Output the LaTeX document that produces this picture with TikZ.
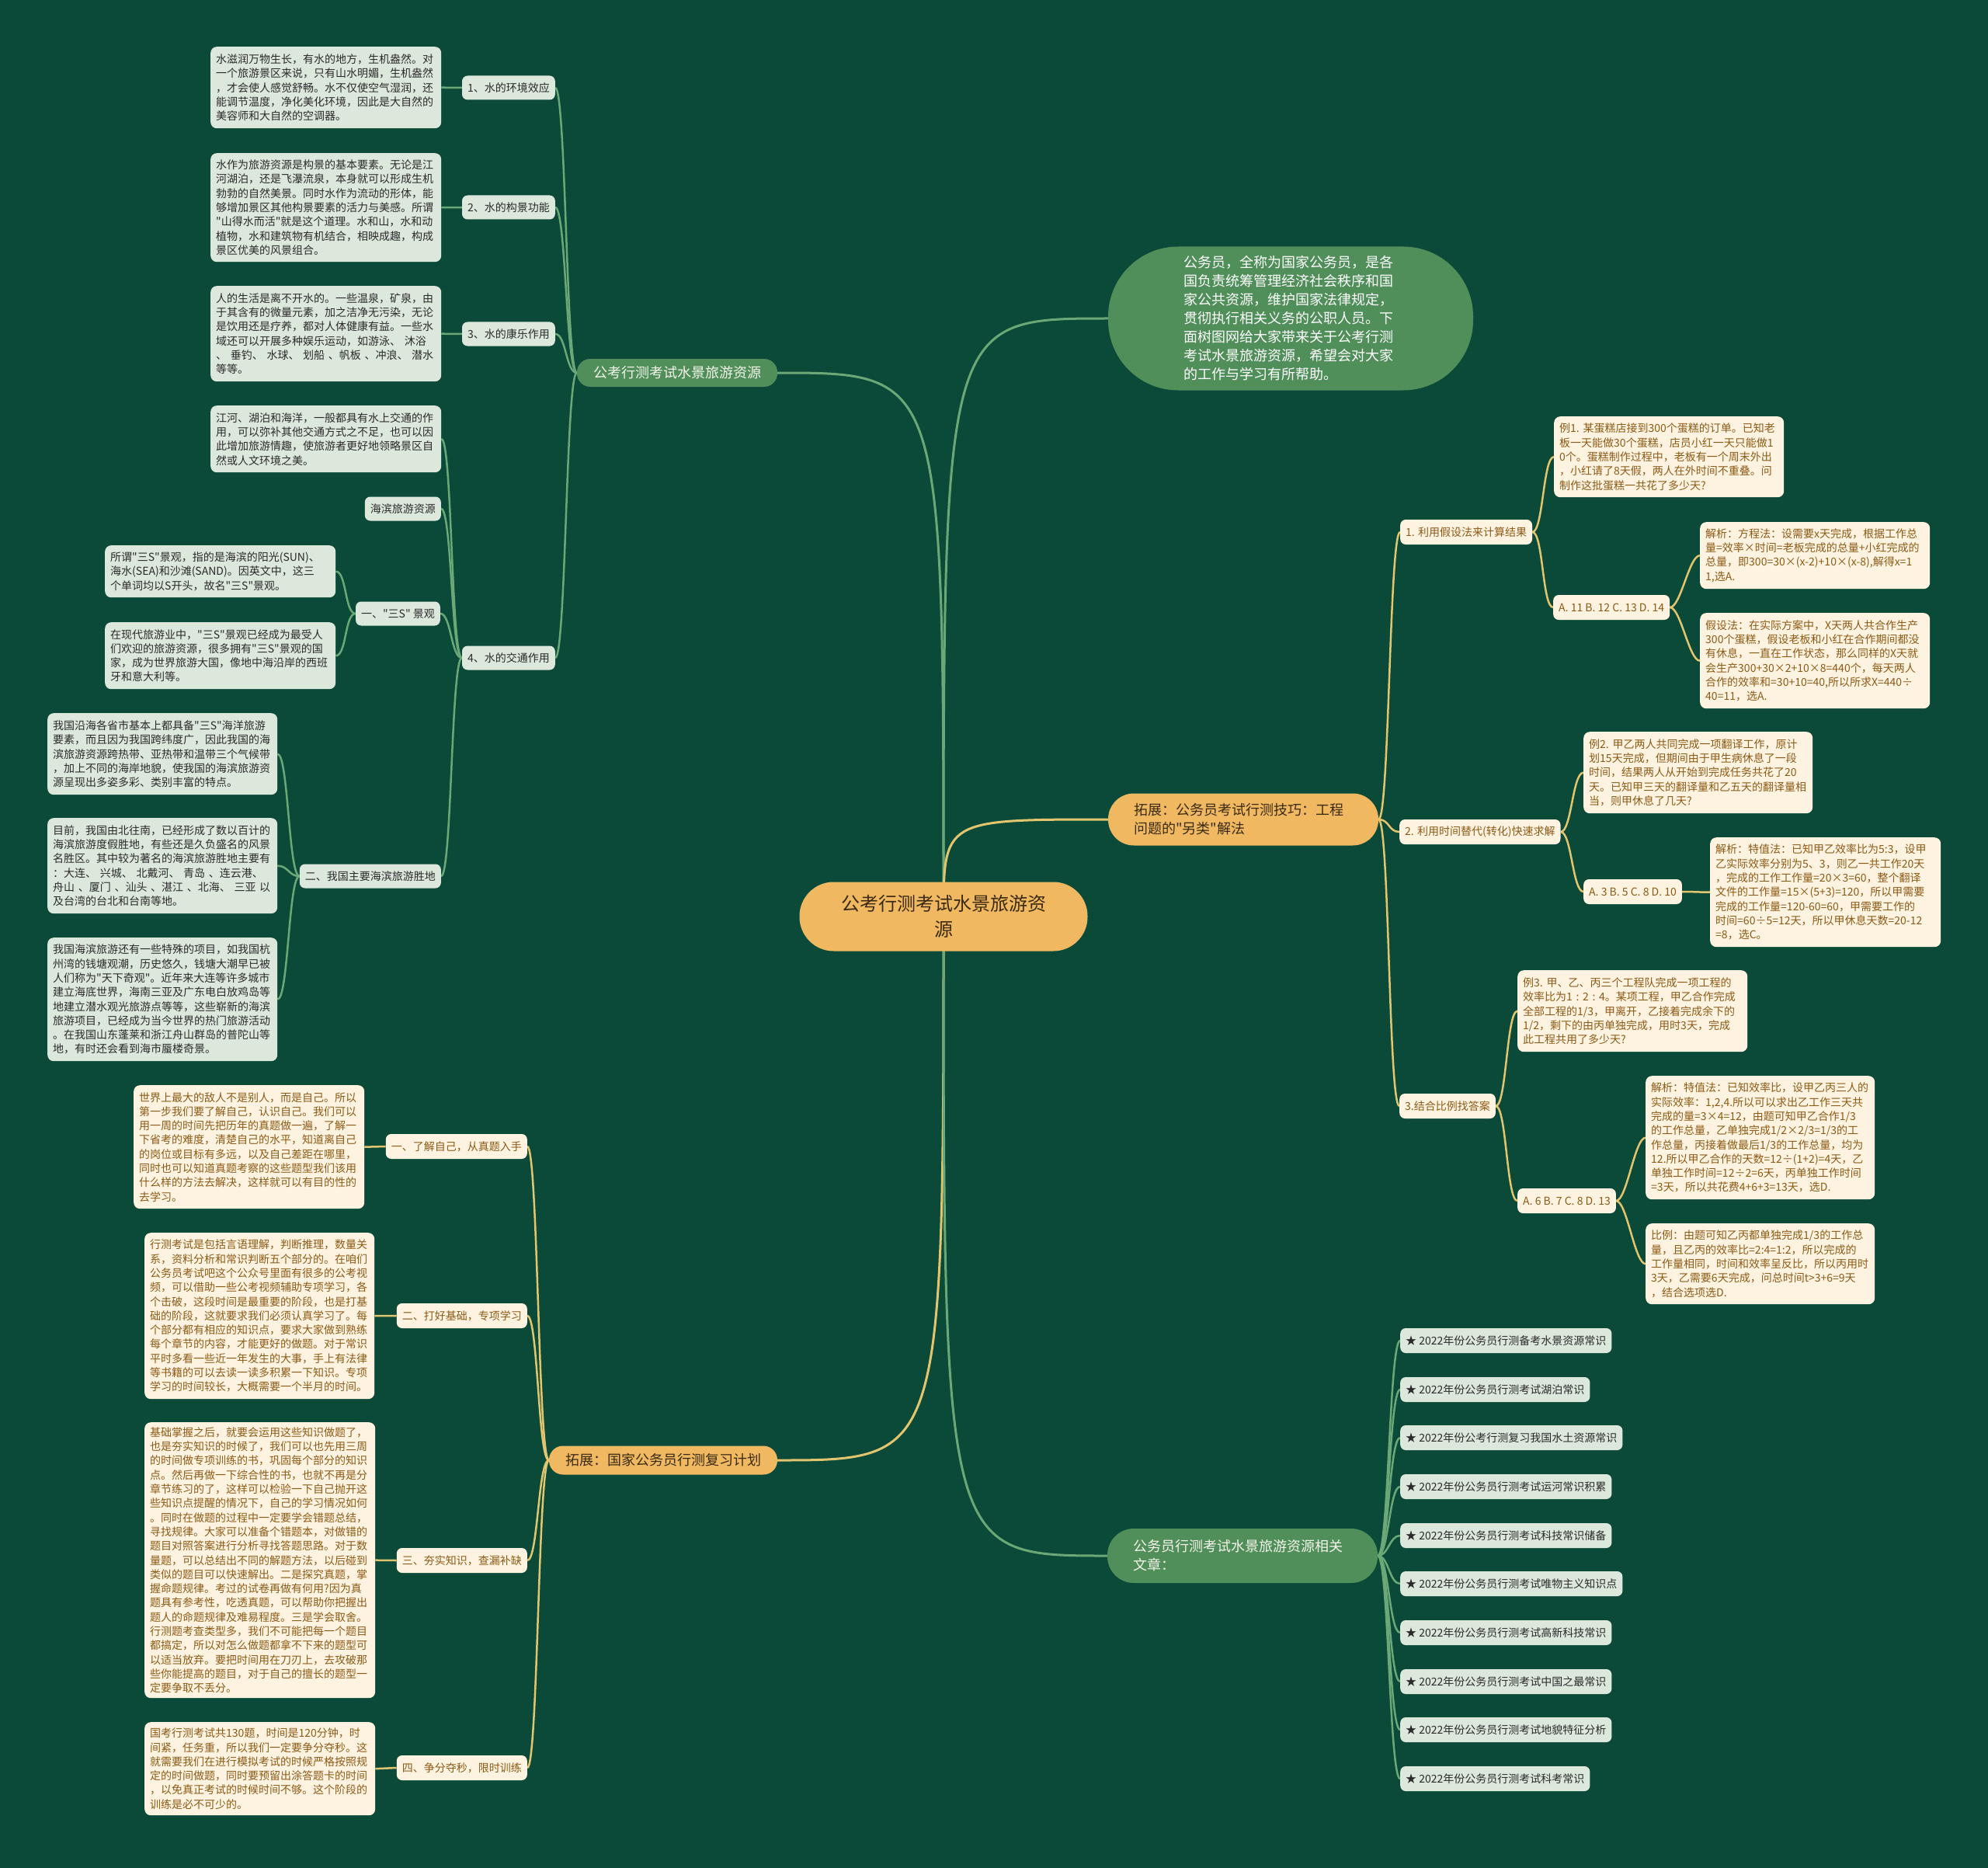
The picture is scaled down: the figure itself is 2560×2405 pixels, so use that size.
\documentclass[tikz,border=0pt]{standalone}
\usepackage{fontspec}
\newfontfamily\cjk{Noto Sans CJK SC}
\definecolor{bgc}{HTML}{0B4A38}
\definecolor{lgreen}{HTML}{DCE8DC}
\definecolor{dtext}{HTML}{2A2A2A}
\definecolor{cream}{HTML}{FDF3E0}
\definecolor{mmbrown}{HTML}{8C5A16}
\definecolor{mmorange}{HTML}{F0B961}
\definecolor{otext}{HTML}{3A2A14}
\definecolor{mgreen}{HTML}{508E5A}
\definecolor{gtext}{HTML}{F4F4EA}
\definecolor{lineG}{HTML}{6BA877}
\definecolor{lineC}{HTML}{E2C56E}
\pgfdeclarelayer{bgfill}
\pgfdeclarelayer{edges}
\pgfsetlayers{bgfill,edges,main}
\newcommand\fsA{\fontsize{14pt}{18.3pt}\selectfont}
\newcommand\fsB{\fontsize{18pt}{24pt}\selectfont}
\newcommand\fsC{\fontsize{24pt}{33pt}\selectfont}
\tikzset{
  leafG/.style={fill=lgreen, text=dtext, rounded corners=8pt, font=\cjk\fsA, align=left, inner xsep=7pt, inner ysep=0pt, anchor=north west},
  leafC/.style={leafG, fill=cream, text=mmbrown},
  labG/.style={fill=lgreen, text=dtext, rounded corners=7pt, font=\cjk\fsA, inner xsep=7pt, inner ysep=0pt, minimum height=31pt},
  labC/.style={labG, fill=cream, text=mmbrown, minimum height=32pt},
  edgeG/.style={draw=lineG, line width=2.5pt},
  edgeC/.style={draw=lineC, line width=2.5pt},
  mainG/.style={fill=mgreen, text=gtext, font=\cjk\fsB, inner ysep=0pt},
  mainO/.style={fill=mmorange, text=otext, font=\cjk\fsB, inner ysep=0pt},
}
\newcommand\mmbox[7]{\node[#2, text width=#5pt, minimum height=#6pt] (#1) at (#3,#4) {#7};}
\newcommand\sedge[3]{\draw[#1] (#2) .. controls +(14,0) and +(-14,0) .. (#3);}
\begin{document}
\begin{tikzpicture}[x=1pt,y=-1pt]
\useasboundingbox (0,0) rectangle (2560,2405);
\begin{pgfonlayer}{bgfill}
\fill[bgc] (0,0) rectangle (2560,2405);
\end{pgfonlayer}

% ---------- main nodes ----------
\node[mainO, font=\cjk\fsC, align=center, minimum width=371pt, minimum height=89pt, rounded corners=44pt] (C) at (1215,1180) {公考行测考试水景旅游资\\源};
\node[mainG, minimum width=258pt, minimum height=36pt, rounded corners=17pt] (tb) at (872,480) {公考行测考试水景旅游资源};
\node[mainG, text=white, align=left, text width=276pt, inner xsep=97pt, minimum height=185pt, rounded corners=90pt] (intro) at (1662,410) {公务员，全称为国家公务员，是各\\国负责统筹管理经济社会秩序和国\\家公共资源，维护国家法律规定，\\贯彻执行相关义务的公职人员。下\\面树图网给大家带来关于公考行测\\考试水景旅游资源，希望会对大家\\的工作与学习有所帮助。};
\node[mainO, align=left, text width=282pt, inner xsep=33pt, minimum height=67pt, rounded corners=33pt] (tz) at (1601,1055) {拓展：公务员考试行测技巧：工程\\问题的"另类"解法};
\node[mainO, minimum width=294pt, minimum height=37pt, rounded corners=18pt] (pl) at (854,1880) {拓展：国家公务员行测复习计划};
\node[mainG, align=left, text width=282pt, inner xsep=33pt, minimum height=70pt, rounded corners=34pt] (rel) at (1600,2003) {公务员行测考试水景旅游资源相关\\文章：};

% ---------- top-left tree ----------
\node[labG, anchor=east] (g1) at (715,113) {1、水的环境效应};
\node[labG, anchor=east] (g2) at (715,267) {2、水的构景功能};
\node[labG, anchor=east] (g3) at (715,430) {3、水的康乐作用};
\node[labG, anchor=east] (g4) at (715,847) {4、水的交通作用};
\node[labG, anchor=east] (gh) at (568,655) {海滨旅游资源};
\node[labG, anchor=east] (gs) at (567,790) {一、"三S" 景观};
\node[labG, anchor=east] (gm) at (568,1128) {二、我国主要海滨旅游胜地};

\mmbox{lf1}{leafG}{271}{60}{283}{105}{水滋润万物生长，有水的地方，生机盎然。对\\一个旅游景区来说，只有山水明媚，生机盎然\\，才会使人感觉舒畅。水不仅使空气湿润，还\\能调节温度，净化美化环境，因此是大自然的\\美容师和大自然的空调器。}
\mmbox{lf2}{leafG}{271}{197}{283}{140}{水作为旅游资源是构景的基本要素。无论是江\\河湖泊，还是飞瀑流泉，本身就可以形成生机\\勃勃的自然美景。同时水作为流动的形体，能\\够增加景区其他构景要素的活力与美感。所谓\\"山得水而活"就是这个道理。水和山，水和动\\植物，水和建筑物有机结合，相映成趣，构成\\景区优美的风景组合。}
\mmbox{lf3}{leafG}{271}{368}{283}{123}{人的生活是离不开水的。一些温泉，矿泉，由\\于其含有的微量元素，加之洁净无污染，无论\\是饮用还是疗养，都对人体健康有益。一些水\\域还可以开展多种娱乐运动，如游泳、~沐浴\\、~垂钓、~水球、~划船~、帆板~、冲浪、~潜水\\等等。}
\mmbox{lf4}{leafG}{271}{522}{283}{86}{江河、湖泊和海洋，一般都具有水上交通的作\\用，可以弥补其他交通方式之不足，也可以因\\此增加旅游情趣，使旅游者更好地领略景区自\\然或人文环境之美。}
\mmbox{s1}{leafG}{135}{702}{283}{67}{所谓"三S"景观，指的是海滨的阳光(SUN)、\\海水(SEA)和沙滩(SAND)。因英文中，这三\\个单词均以S开头，故名"三S"景观。}
\mmbox{s2}{leafG}{135}{801}{283}{86}{在现代旅游业中，"三S"景观已经成为最受人\\们欢迎的旅游资源，很多拥有"三S"景观的国\\家，成为世界旅游大国，像地中海沿岸的西班\\牙和意大利等。}
\mmbox{m1}{leafG}{61}{918}{282}{105}{我国沿海各省市基本上都具备"三S"海洋旅游\\要素，而且因为我国跨纬度广，因此我国的海\\滨旅游资源跨热带、亚热带和温带三个气候带\\，加上不同的海岸地貌，使我国的海滨旅游资\\源呈现出多姿多彩、类别丰富的特点。}
\mmbox{m2}{leafG}{61}{1053}{282}{123}{目前，我国由北往南，已经形成了数以百计的\\海滨旅游度假胜地，有些还是久负盛名的风景\\名胜区。其中较为著名的海滨旅游胜地主要有\\：大连、~兴城、~北戴河、~青岛~、连云港、\\舟山~、厦门~、汕头~、湛江~、北海、~三亚~以\\及台湾的台北和台南等地。}
\mmbox{m3}{leafG}{61}{1207}{282}{159}{我国海滨旅游还有一些特殊的项目，如我国杭\\州湾的钱塘观潮，历史悠久，钱塘大潮早已被\\人们称为"天下奇观"。近年来大连等许多城市\\建立海底世界，海南三亚及广东电白放鸡岛等\\地建立潜水观光旅游点等等，这些崭新的海滨\\旅游项目，已经成为当今世界的热门旅游活动\\。在我国山东蓬莱和浙江舟山群岛的普陀山等\\地，有时还会看到海市蜃楼奇景。}

% ---------- bottom-left tree ----------
\node[labC, anchor=east] (b1) at (679,1476) {一、了解自己，从真题入手};
\node[labC, anchor=east] (b2) at (679,1694) {二、打好基础，专项学习};
\node[labC, anchor=east] (b3) at (679,2009) {三、夯实知识，查漏补缺};
\node[labC, anchor=east] (b4) at (679,2276) {四、争分夺秒，限时训练};
\mmbox{bl1}{leafC}{172}{1397}{283}{159}{世界上最大的敌人不是别人，而是自己。所以\\第一步我们要了解自己，认识自己。我们可以\\用一周的时间先把历年的真题做一遍，了解一\\下省考的难度，清楚自己的水平，知道离自己\\的岗位或目标有多远，以及自己差距在哪里，\\同时也可以知道真题考察的这些题型我们该用\\什么样的方法去解决，这样就可以有目的性的\\去学习。}
\mmbox{bl2}{leafC}{186}{1587}{282}{214}{行测考试是包括言语理解，判断推理，数量关\\系，资料分析和常识判断五个部分的。在咱们\\公务员考试吧这个公众号里面有很多的公考视\\频，可以借助一些公考视频辅助专项学习，各\\个击破，这段时间是最重要的阶段，也是打基\\础的阶段，这就要求我们必须认真学习了。每\\个部分都有相应的知识点，要求大家做到熟练\\每个章节的内容，才能更好的做题。对于常识\\平时多看一些近一年发生的大事，手上有法律\\等书籍的可以去读一读多积累一下知识。专项\\学习的时间较长，大概需要一个半月的时间。}
\mmbox{bl3}{leafC}{186}{1831}{283}{355}{基础掌握之后，就要会运用这些知识做题了，\\也是夯实知识的时候了，我们可以也先用三周\\的时间做专项训练的书，巩固每个部分的知识\\点。然后再做一下综合性的书，也就不再是分\\章节练习的了，这样可以检验一下自己抛开这\\些知识点提醒的情况下，自己的学习情况如何\\。同时在做题的过程中一定要学会错题总结，\\寻找规律。大家可以准备个错题本，对做错的\\题目对照答案进行分析寻找答题思路。对于数\\量题，可以总结出不同的解题方法，以后碰到\\类似的题目可以快速解出。二是探究真题，掌\\握命题规律。考过的试卷再做有何用?因为真\\题具有参考性，吃透真题，可以帮助你把握出\\题人的命题规律及难易程度。三是学会取舍。\\行测题考查类型多，我们不可能把每一个题目\\都搞定，所以对怎么做题都拿不下来的题型可\\以适当放弃。要把时间用在刀刃上，去攻破那\\些你能提高的题目，对于自己的擅长的题型一\\定要争取不丢分。}
\mmbox{bl4}{leafC}{186}{2217}{283}{120}{国考行测考试共130题，时间是120分钟，时\\间紧，任务重，所以我们一定要争分夺秒。这\\就需要我们在进行模拟考试的时候严格按照规\\定的时间做题，同时要预留出涂答题卡的时间\\，以免真正考试的时候时间不够。这个阶段的\\训练是必不可少的。}

% ---------- right tree ----------
\node[labC, anchor=west] (r1) at (1803,685) {1. 利用假设法来计算结果};
\node[labC, anchor=west] (r2) at (1802,1071) {2. 利用时间替代(转化)快速求解};
\node[labC, anchor=west] (r3) at (1802,1424) {3.结合比例找答案};
\node[labC, anchor=west] (o1) at (2000,782) {A. 11 B. 12 C. 13 D. 14};
\node[labC, anchor=west] (o2) at (2039,1148) {A. 3 B. 5 C. 8 D. 10};
\node[labC, anchor=west] (o3) at (1954,1546) {A. 6 B. 7 C. 8 D. 13};
\mmbox{ex1}{leafC}{2001}{536}{282}{104}{例1.~某蛋糕店接到300个蛋糕的订单。已知老\\板一天能做30个蛋糕，店员小红一天只能做1\\0个。蛋糕制作过程中，老板有一个周末外出\\，小红请了8天假，两人在外时间不重叠。问\\制作这批蛋糕一共花了多少天?}
\mmbox{an1a}{leafC}{2189}{672}{282}{86}{解析：方程法：设需要x天完成，根据工作总\\量=效率×时间=老板完成的总量+小红完成的\\总量，即300=30×(x-2)+10×(x-8),解得x=1\\1,选A.}
\mmbox{an1b}{leafC}{2189}{789}{282}{123}{假设法：在实际方案中，X天两人共合作生产\\300个蛋糕，假设老板和小红在合作期间都没\\有休息，一直在工作状态，那么同样的X天就\\会生产300+30×2+10×8=440个，每天两人\\合作的效率和=30+10=40,所以所求X=440÷\\40=11，选A.}
\mmbox{ex2}{leafC}{2039}{942}{281}{105}{例2.~甲乙两人共同完成一项翻译工作，原计\\划15天完成，但期间由于甲生病休息了一段\\时间，结果两人从开始到完成任务共花了20\\天。已知甲三天的翻译量和乙五天的翻译量相\\当，则甲休息了几天?}
\mmbox{an2}{leafC}{2202}{1078}{283}{141}{解析：特值法：已知甲乙效率比为5:3，设甲\\乙实际效率分别为5、3，则乙一共工作20天\\，完成的工作工作量=20×3=60，整个翻译\\文件的工作量=15×(5+3)=120，所以甲需要\\完成的工作量=120-60=60，甲需要工作的\\时间=60÷5=12天，所以甲休息天数=20-12\\=8，选C。}
\mmbox{ex3}{leafC}{1954}{1249}{282}{105}{例3.~甲、乙、丙三个工程队完成一项工程的\\效率比为1~:~2~:~4。某项工程，甲乙合作完成\\全部工程的1/3，甲离开，乙接着完成余下的\\1/2，剩下的由丙单独完成，用时3天，完成\\此工程共用了多少天?}
\mmbox{an3a}{leafC}{2119}{1385}{281}{159}{解析：特值法：已知效率比，设甲乙丙三人的\\实际效率：1,2,4.所以可以求出乙工作三天共\\完成的量=3×4=12，由题可知甲乙合作1/3\\的工作总量，乙单独完成1/2×2/3=1/3的工\\作总量，丙接着做最后1/3的工作总量，均为\\12.所以甲乙合作的天数=12÷(1+2)=4天，乙\\单独工作时间=12÷2=6天，丙单独工作时间\\=3天，所以共花费4+6+3=13天，选D.}
\mmbox{an3b}{leafC}{2119}{1575}{281}{104}{比例：由题可知乙丙都单独完成1/3的工作总\\量，且乙丙的效率比=2:4=1:2，所以完成的\\工作量相同，时间和效率呈反比，所以丙用时\\3天，乙需要6天完成，问总时间t>3+6=9天\\，结合选项选D.}

% ---------- related list ----------
\node[labG, anchor=west, minimum height=32pt] (it1) at (1803,1726) {★ 2022年份公务员行测备考水景资源常识};
\node[labG, anchor=west, minimum height=32pt] (it2) at (1803,1789) {★ 2022年份公务员行测考试湖泊常识};
\node[labG, anchor=west, minimum height=32pt] (it3) at (1803,1851) {★ 2022年份公考行测复习我国水土资源常识};
\node[labG, anchor=west, minimum height=32pt] (it4) at (1803,1914) {★ 2022年份公务员行测考试运河常识积累};
\node[labG, anchor=west, minimum height=32pt] (it5) at (1803,1977) {★ 2022年份公务员行测考试科技常识储备};
\node[labG, anchor=west, minimum height=32pt] (it6) at (1803,2039) {★ 2022年份公务员行测考试唯物主义知识点};
\node[labG, anchor=west, minimum height=32pt] (it7) at (1803,2102) {★ 2022年份公务员行测考试高新科技常识};
\node[labG, anchor=west, minimum height=32pt] (it8) at (1803,2165) {★ 2022年份公务员行测考试中国之最常识};
\node[labG, anchor=west, minimum height=32pt] (it9) at (1803,2227) {★ 2022年份公务员行测考试地貌特征分析};
\node[labG, anchor=west, minimum height=32pt] (it10) at (1803,2290) {★ 2022年份公务员行测考试科考常识};

% ---------- connectors ----------
\begin{pgfonlayer}{edges}
\draw[edgeG, line width=3pt] (C.center) .. controls (C.center |- tb.east) .. (tb.east);
\draw[edgeG, line width=3pt] (C.center) .. controls (C.center |- intro.west) .. (intro.west);
\draw[edgeC, line width=3pt] (C.center) .. controls (C.center |- tz.west) .. (tz.west);
\draw[edgeC, line width=3pt] (C.center) .. controls (C.center |- pl.east) .. (pl.east);
\draw[edgeG, line width=3pt] (C.center) .. controls (C.center |- rel.west) .. (rel.west);

\sedge{edgeG}{g1.east}{tb.west}
\sedge{edgeG}{g2.east}{tb.west}
\sedge{edgeG}{g3.east}{tb.west}
\sedge{edgeG}{g4.east}{tb.west}
\sedge{edgeG}{lf1.east}{g1.west}
\sedge{edgeG}{lf2.east}{g2.west}
\sedge{edgeG}{lf3.east}{g3.west}
\sedge{edgeG}{lf4.east}{g4.west}
\sedge{edgeG}{gh.east}{g4.west}
\sedge{edgeG}{gs.east}{g4.west}
\sedge{edgeG}{gm.east}{g4.west}
\sedge{edgeG}{s1.east}{gs.west}
\sedge{edgeG}{s2.east}{gs.west}
\sedge{edgeG}{m1.east}{gm.west}
\sedge{edgeG}{m2.east}{gm.west}
\sedge{edgeG}{m3.east}{gm.west}

\sedge{edgeC}{b1.east}{pl.west}
\sedge{edgeC}{b2.east}{pl.west}
\sedge{edgeC}{b3.east}{pl.west}
\sedge{edgeC}{b4.east}{pl.west}
\sedge{edgeC}{bl1.east}{b1.west}
\sedge{edgeC}{bl2.east}{b2.west}
\sedge{edgeC}{bl3.east}{b3.west}
\sedge{edgeC}{bl4.east}{b4.west}

\sedge{edgeC}{tz.east}{r1.west}
\sedge{edgeC}{tz.east}{r2.west}
\sedge{edgeC}{tz.east}{r3.west}
\sedge{edgeC}{r1.east}{ex1.west}
\sedge{edgeC}{r1.east}{o1.west}
\sedge{edgeC}{o1.east}{an1a.west}
\sedge{edgeC}{o1.east}{an1b.west}
\sedge{edgeC}{r2.east}{ex2.west}
\sedge{edgeC}{r2.east}{o2.west}
\sedge{edgeC}{o2.east}{an2.west}
\sedge{edgeC}{r3.east}{ex3.west}
\sedge{edgeC}{r3.east}{o3.west}
\sedge{edgeC}{o3.east}{an3a.west}
\sedge{edgeC}{o3.east}{an3b.west}

\sedge{edgeG}{rel.east}{it1.west}
\sedge{edgeG}{rel.east}{it2.west}
\sedge{edgeG}{rel.east}{it3.west}
\sedge{edgeG}{rel.east}{it4.west}
\sedge{edgeG}{rel.east}{it5.west}
\sedge{edgeG}{rel.east}{it6.west}
\sedge{edgeG}{rel.east}{it7.west}
\sedge{edgeG}{rel.east}{it8.west}
\sedge{edgeG}{rel.east}{it9.west}
\sedge{edgeG}{rel.east}{it10.west}
\end{pgfonlayer}
\end{tikzpicture}
\end{document}
